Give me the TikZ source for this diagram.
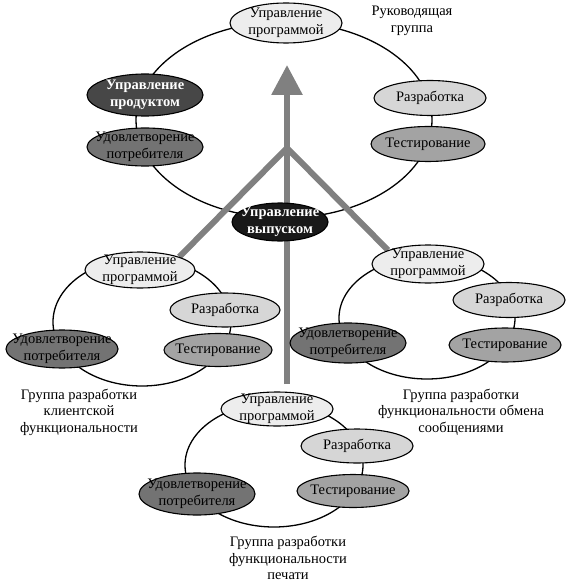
\documentclass[tikz,border=0pt]{standalone}
\usepackage{fontspec}
\setmainfont{Liberation Serif}
\usetikzlibrary{arrows.meta,backgrounds,shapes.geometric}

\newcommand\txt{\fontsize{14.5}{16.5}\selectfont}

\begin{document}
\begin{tikzpicture}[x=1pt,y=-1pt,
    every label/.style={align=center,inner sep=0pt,font=\txt},
    box/.style={ellipse,draw,line width=1.1pt,minimum width=112pt,minimum height=35pt,label={center:#1}},
    pm/.style={box=#1,fill=black!7},
    dev/.style={box=#1,fill=black!16},
    test/.style={box=#1,fill=black!36},
    sat/.style={box=#1,fill=black!55,minimum width=116pt,minimum height=40pt},
    dark/.style 2 args={ellipse,draw,line width=1.1pt,fill=#1,label={[text=white,font=\txt\bfseries]center:#2}},
    ring/.style={line width=1.3pt},
    stem/.style={line width=6pt,color=black!50}]
\useasboundingbox (0,0) rectangle (570,585);

% Руководящая группа
\node[pm={Управление\\программой},minimum height=40pt] (tpm) at (286,23) {};
\node[dark={black!72}{Управление\\продуктом},minimum width=116pt,minimum height=42pt] (tprod) at (145,95) {};
\node[sat={Удовлетворение\\потребителя},minimum height=38pt] (tsat) at (145,147) {};
\node[dev={Разработка}] (tdev) at (430,98) {};
\node[test={Тестирование},minimum width=114pt] (ttest) at (428,144) {};
\node[align=center,font=\txt] (tname) at (412,21) {Руководящая\\группа};

\node[dark={black!90}{Управление\\выпуском},minimum width=96pt,minimum height=38pt] (rel) at (280,222) {};

% клиентская функциональность
\node[pm={Управление\\программой},minimum width=110pt,minimum height=36pt] (lpm) at (140,270) {};
\node[dev={Разработка},minimum width=110pt,minimum height=34pt] (ldev) at (225,310) {};
\node[test={Тестирование},minimum width=108pt,minimum height=33pt] (ltest) at (218,350) {};
\node[sat={Удовлетворение\\потребителя},minimum width=112pt,minimum height=38pt] (lsat) at (62,349) {};
\node[align=center,font=\txt] (lname) at (79,412) {Группа разработки\\клиентской\\функциональности};

% обмен сообщениями
\node[pm={Управление\\программой},minimum height=38pt] (rpm) at (428,264) {};
\node[dev={Разработка}] (rdev) at (509,300) {};
\node[test={Тестирование},minimum height=34pt] (rtest) at (505,345) {};
\node[sat={Удовлетворение\\потребителя}] (rsat) at (348,343) {};
\node[align=center,font=\txt] (rname) at (461,412) {Группа разработки\\функциональности обмена\\сообщениями};

% печать
\node[pm={Управление\\программой},minimum height=34pt] (bpm) at (277,409) {};
\node[dev={Разработка},minimum height=34pt] (bdev) at (357,446) {};
\node[test={Тестирование},minimum height=33pt] (btest) at (353,491) {};
\node[sat={Удовлетворение\\потребителя},minimum height=42pt] (bsat) at (197,494) {};
\node[align=center,font=\txt] (bname) at (288,558) {Группа разработки\\функциональности\\печати};

\coordinate (tip) at (287,65);
\coordinate (fork) at (287,148);
\coordinate (foot) at (287,384);

\begin{scope}[on background layer]
  \draw[ring] (284,120) ellipse [x radius=148pt,y radius=98pt];
  \draw[ring] (142,322) ellipse [x radius=89pt,y radius=64pt];
  \draw[ring] (427,318) ellipse [x radius=88pt,y radius=61pt];
  \draw[ring] (274,465) ellipse [x radius=89pt,y radius=62pt];
  \draw[stem,-{Triangle[width=30pt,length=30pt]}] (foot) -- (tip);
  \draw[stem] (lpm.north east) -- (fork) -- (rpm.north west);
\end{scope}
\end{tikzpicture}
\end{document}
